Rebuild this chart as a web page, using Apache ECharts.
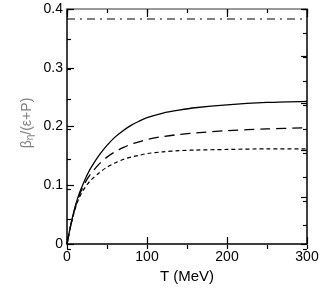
<!DOCTYPE html>
<html>
<head>
<meta charset="utf-8">
<script src="https://cdn.jsdelivr.net/npm/echarts@6/dist/echarts.min.js"></script>
<style>
html,body{margin:0;padding:0;background:#fff;}
#c{width:334px;height:289px;}
</style>
</head>
<body>
<div id="c"></div>
<script>
var temps = [0, 5, 10, 15, 20, 25, 30, 40, 50, 60, 70, 80, 90, 100, 120, 140, 160, 200, 250, 300];
var solidVals = [0, 0.035, 0.063, 0.085, 0.102, 0.117, 0.130, 0.151, 0.168, 0.182, 0.193, 0.202, 0.209, 0.215, 0.223, 0.228, 0.232, 0.237, 0.241, 0.243];
var dashedVals = [0, 0.034, 0.061, 0.082, 0.097, 0.110, 0.120, 0.136, 0.148, 0.157, 0.164, 0.170, 0.174, 0.178, 0.183, 0.1865, 0.189, 0.193, 0.196, 0.198];
var dottedVals = [0, 0.033, 0.059, 0.078, 0.091, 0.101, 0.109, 0.121, 0.131, 0.138, 0.144, 0.148, 0.151, 0.154, 0.157, 0.159, 0.160, 0.161, 0.162, 0.162];
var limitVals = [0.383, 0.383];
var limitTemps = [0, 300];
var xTicks = [0, 100, 200, 300];
var yTicks = [0, 0.1, 0.2, 0.3, 0.4];

function pairs(xs, ys) { return xs.map(function (x, i) { return [x, ys[i]]; }); }

var font = 'Liberation Sans, Arial, sans-serif';
var tickStyle = {color: '#000', width: 1.2};
function tickAxis(base, interval, len, position, line, gi) {
  return Object.assign({
    type: 'value', interval: interval, position: position, gridIndex: gi,
    axisLine: line ? {show: true, onZero: false, lineStyle: line} : {show: false, onZero: false},
    axisTick: {show: true, inside: true, length: len, lineStyle: tickStyle},
    axisLabel: {show: false},
    splitLine: {show: false}
  }, base);
}
var xr = {min: 0, max: 300};
var yr = {min: 0, max: 0.4};
var g = {left: 67, right: 27, top: 9, bottom: 40};

var chart = echarts.init(document.getElementById('c'), null, {renderer: 'canvas'});
chart.setOption({
  animation: false,
  backgroundColor: '#fff',
  grid: [g, g],
  xAxis: [{
    type: 'value', min: 0, max: 300, interval: 100, position: 'bottom', gridIndex: 0,
    name: 'T (MeV)', nameLocation: 'middle', nameGap: 24,
    nameTextStyle: {fontFamily: font, fontSize: 15, color: '#000'},
    axisLine: {show: true, onZero: false, lineStyle: {color: '#000', width: 1.5}},
    axisTick: {show: true, inside: true, length: 7, lineStyle: tickStyle},
    axisLabel: {margin: 6, fontFamily: font, fontSize: 14, color: '#000',
      formatter: function (v) { return xTicks.indexOf(v) >= 0 ? String(v) : ''; }},
    splitLine: {show: false}
  },
  tickAxis(xr, 100, 8, 'top', {color: '#999', width: 2}, 0),
  tickAxis(xr, 50, 4, 'bottom', null, 1),
  tickAxis(xr, 50, 4, 'top', null, 1)
  ],
  yAxis: [{
    type: 'value', min: 0, max: 0.4, interval: 0.1, position: 'left', gridIndex: 0,
    axisLine: {show: true, onZero: false, lineStyle: {color: '#000', width: 1.5}},
    axisTick: {show: true, inside: true, length: 7, lineStyle: tickStyle},
    axisLabel: {margin: 4, fontFamily: font, fontSize: 14, color: '#000',
      formatter: function (v) { var r = Math.round(v * 10) / 10; return yTicks.indexOf(r) >= 0 ? String(r) : ''; }},
    splitLine: {show: false}
  },
  tickAxis(yr, 0.08, 6, 'right', {color: '#000', width: 1.5}, 0),
  tickAxis(yr, 0.05, 4, 'left', null, 1),
  tickAxis(yr, 0.04, 4, 'right', null, 1)
  ],
  graphic: [{
    type: 'text', x: 27, y: 123, rotation: Math.PI / 2,
    style: {
      text: '{b|β}{s|η}{b|/(ε+P)}',
      align: 'center', verticalAlign: 'middle',
      rich: {
        b: {fontFamily: font, fontSize: 14, fill: '#808080', color: '#808080'},
        s: {fontFamily: font, fontSize: 10, fill: '#808080', color: '#808080', verticalAlign: 'bottom', padding: [7, 0, 0, 0]}
      }
    }
  }],
  series: [{
    type: 'line', xAxisIndex: 0, yAxisIndex: 0, data: pairs(temps, solidVals), showSymbol: false, smooth: 0.3,
    lineStyle: {color: '#000', width: 1.3, type: 'solid'}
  }, {
    type: 'line', xAxisIndex: 0, yAxisIndex: 0, data: pairs(temps, dashedVals), showSymbol: false, smooth: 0.3,
    lineStyle: {color: '#000', width: 1.3, type: [10, 6]}
  }, {
    type: 'line', xAxisIndex: 0, yAxisIndex: 0, data: pairs(temps, dottedVals), showSymbol: false, smooth: 0.3,
    lineStyle: {color: '#000', width: 1.2, type: [4, 3]}
  }, {
    type: 'line', xAxisIndex: 0, yAxisIndex: 0, data: pairs(limitTemps, limitVals), showSymbol: false,
    lineStyle: {color: '#000', width: 1.1, type: [8, 5, 2, 5]}
  }]
});
</script>
</body>
</html>
